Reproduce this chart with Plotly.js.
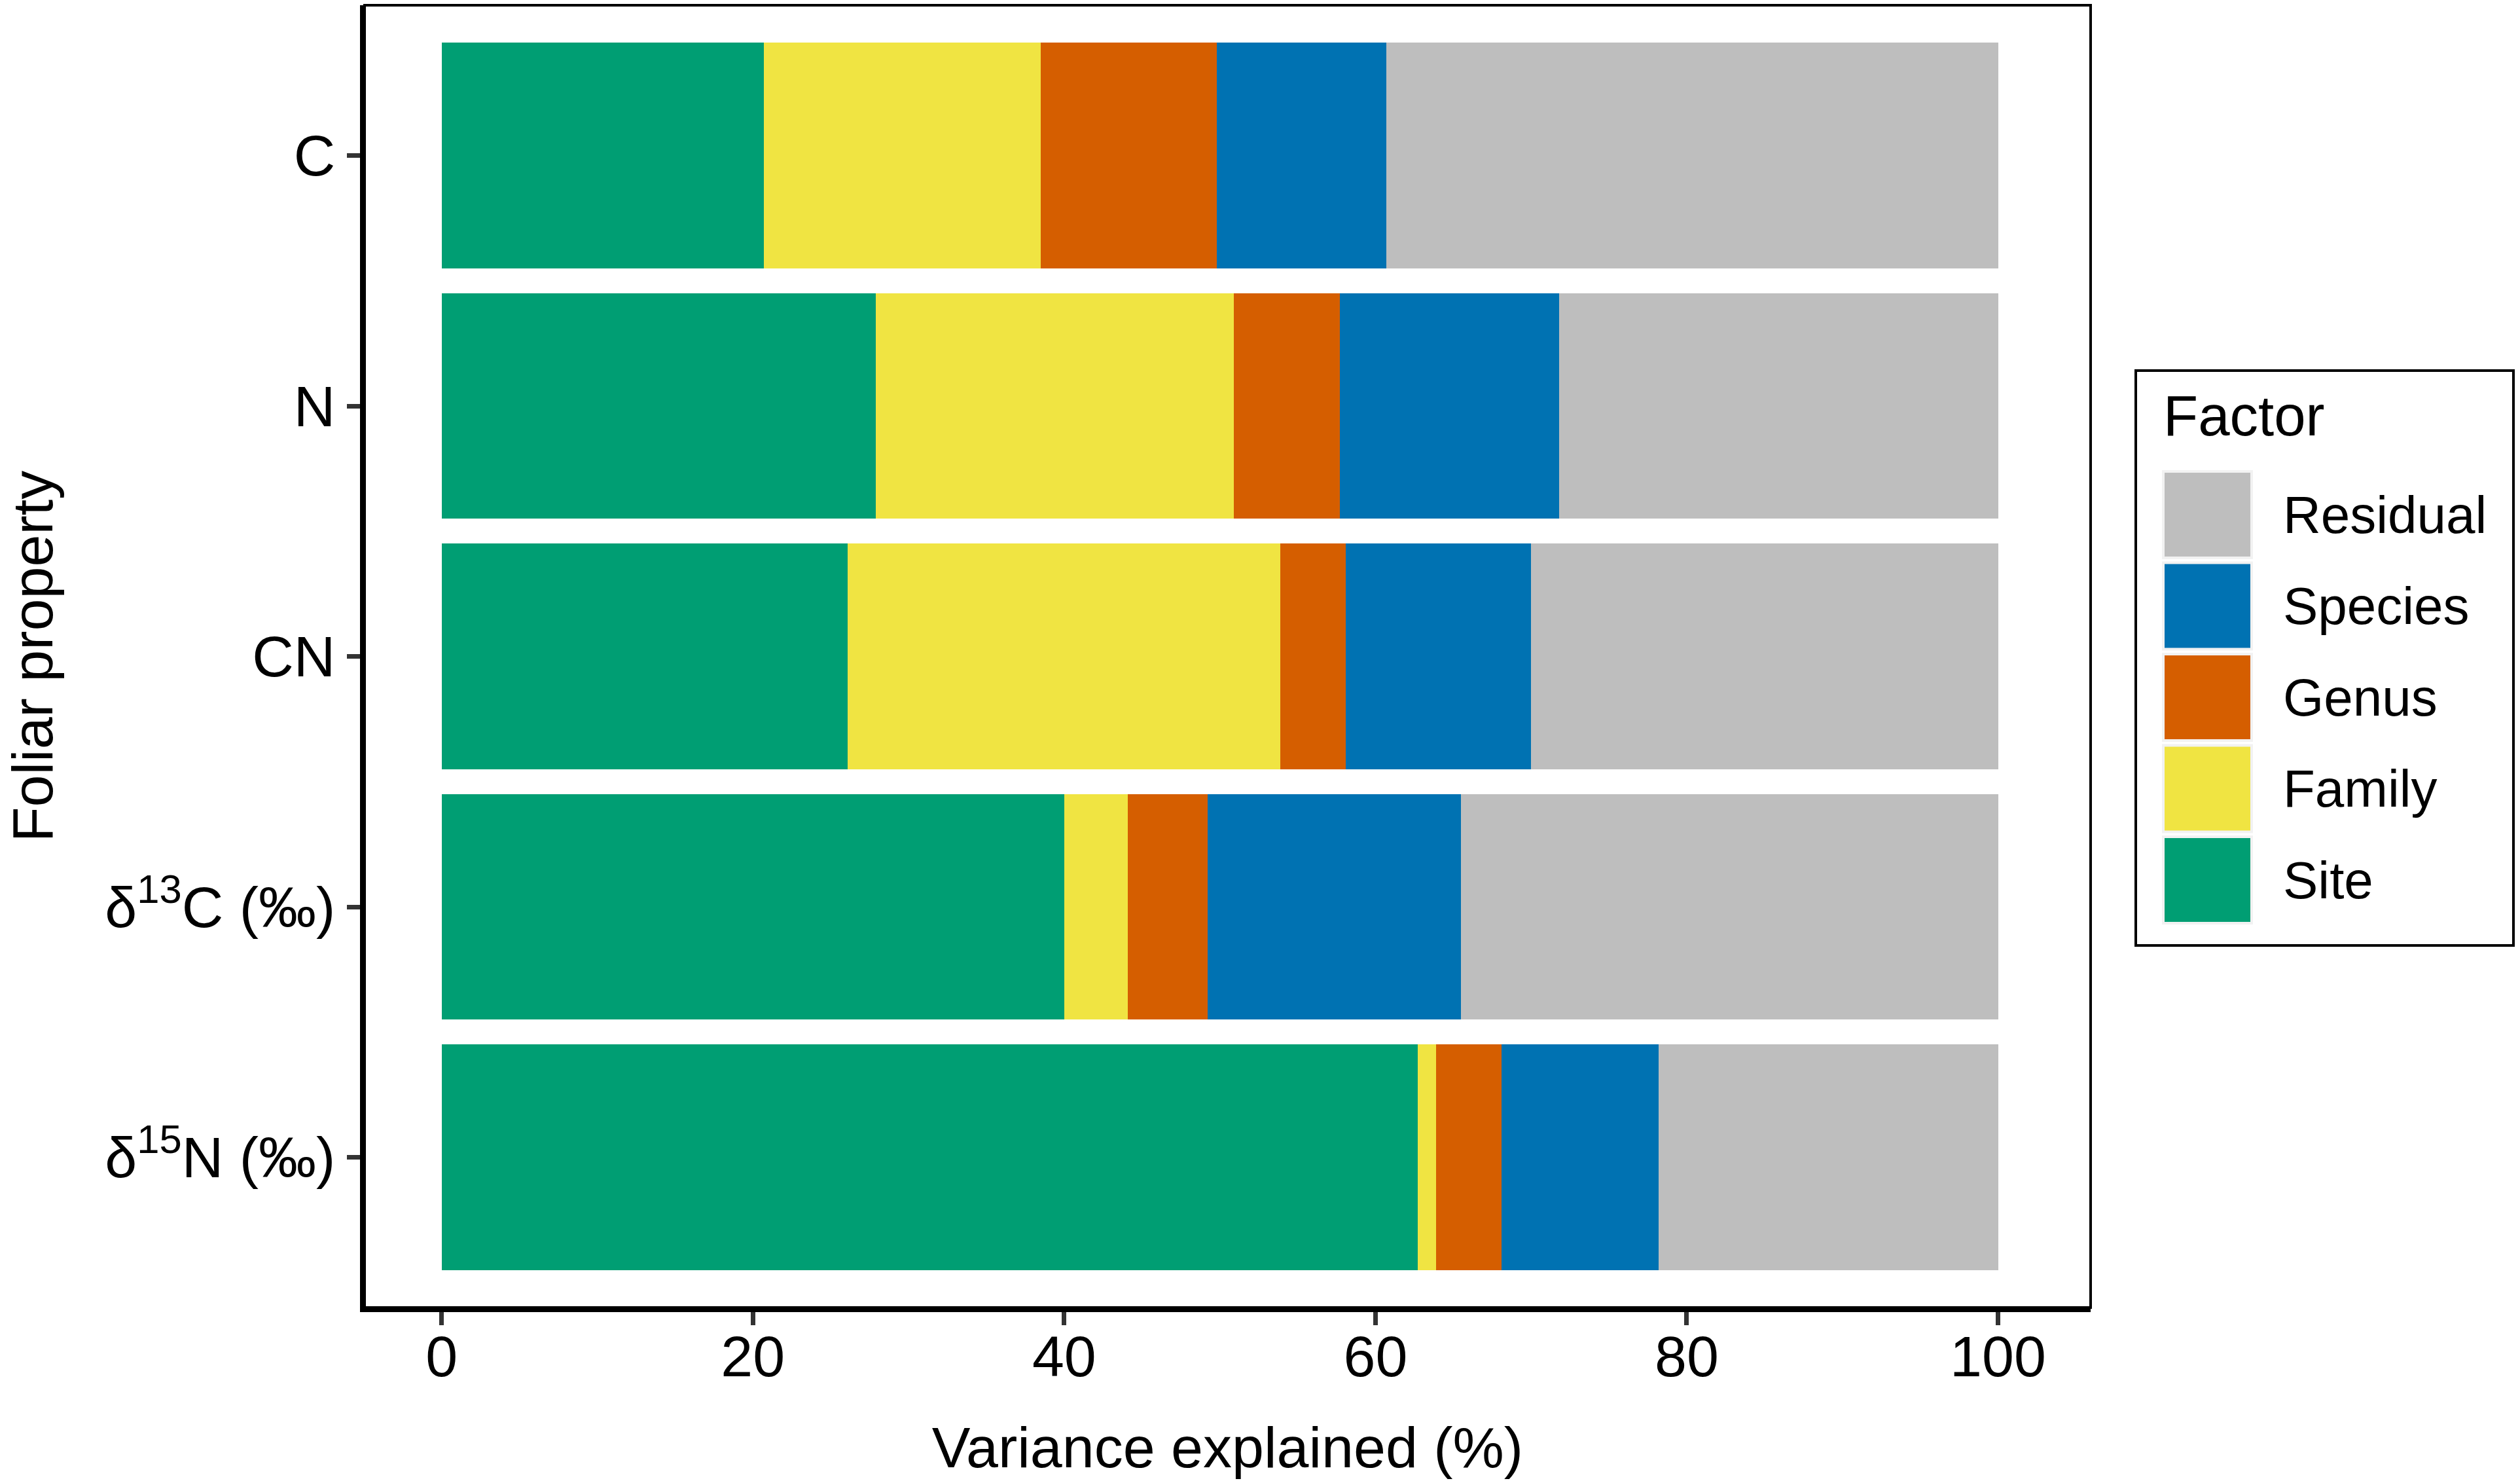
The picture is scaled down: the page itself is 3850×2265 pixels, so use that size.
<!DOCTYPE html>
<html>
<head>
<meta charset="utf-8">
<script src="https://cdn.plot.ly/plotly-3.0.1.min.js"></script>
<style>html,body{margin:0;padding:0;background:#fff;}#chart{width:3850px;height:2265px;}</style>
</head>
<body>
<div id="chart"></div>
<script>
// ---- data ----
const categories = ['C', 'N', 'CN', 'd13C', 'd15N'];
const tickLabels = ['C', 'N', 'CN', 'δ<sup>13</sup>C (‰)', 'δ<sup>15</sup>N (‰)'];
const factorNames = ['Site', 'Family', 'Genus', 'Species', 'Residual'];
const factorColors = ['#009E73', '#F0E442', '#D55E00', '#0072B2', '#BEBEBE'];
const site = [20.7, 27.9, 26.1, 40.0, 62.7];
const family = [17.8, 23.0, 27.8, 4.1, 1.2];
const genus = [11.3, 6.8, 4.2, 5.1, 4.2];
const species = [10.9, 14.1, 11.9, 16.3, 10.1];
const residual = [39.3, 28.2, 30.0, 34.5, 21.8];
const xTicks = [0, 20, 40, 60, 80, 100];

const seriesValues = [site, family, genus, species, residual];

// ---- layout geometry (pixels) ----
const W = 3850, H = 2265;
const M = {l: 557, r: 656, t: 8, b: 268};
const PW = W - M.l - M.r, PH = H - M.t - M.b;
const px = x => (x - M.l) / PW;
const py = y => (H - M.b - y) / PH;
const FONT = 'Liberation Sans, Arial, Helvetica, sans-serif';

const traces = factorNames.map((name, i) => ({
  type: 'bar',
  orientation: 'h',
  name: name,
  y: categories,
  x: seriesValues[i],
  width: 0.9,
  marker: {color: factorColors[i], line: {width: 0}},
  showlegend: false,
  hovertemplate: name + ': %{x}<extra></extra>'
}));

// panel box (thin top/right border)
const shapes = [{
  type: 'rect', xref: 'paper', yref: 'paper', x0: 0, x1: 1, y0: 0, y1: 1,
  line: {color: '#000', width: 4}, fillcolor: 'rgba(0,0,0,0)', layer: 'above'
}];
const annotations = [];

// custom legend (keys as in the reference)
shapes.push({
  type: 'rect', xref: 'paper', yref: 'paper',
  x0: px(3263), x1: px(3840), y0: py(1444), y1: py(566),
  line: {color: '#000', width: 4}, fillcolor: '#fff'
});
annotations.push({
  xref: 'paper', yref: 'paper', x: px(3303), y: py(634),
  xanchor: 'left', yanchor: 'middle', showarrow: false,
  text: 'Factor', font: {family: FONT, size: 87, color: '#000'}
});
const legendOrder = [4, 3, 2, 1, 0];
const keyTop0 = 722, keyPitch = 139.5, keyH = 128;
legendOrder.forEach((fi, k) => {
  const top = keyTop0 + k * keyPitch;
  shapes.push({
    type: 'rect', xref: 'paper', yref: 'paper',
    x0: px(3303), x1: px(3442), y0: py(top + keyH + 4), y1: py(top - 4),
    line: {width: 0}, fillcolor: '#F2F2F2'
  });
  shapes.push({
    type: 'rect', xref: 'paper', yref: 'paper',
    x0: px(3307), x1: px(3438), y0: py(top + keyH), y1: py(top),
    line: {width: 0}, fillcolor: factorColors[fi]
  });
  annotations.push({
    xref: 'paper', yref: 'paper', x: px(3486), y: py(top + keyH / 2),
    xanchor: 'left', yanchor: 'middle', showarrow: false,
    text: factorNames[fi], font: {family: FONT, size: 80, color: '#000'}
  });
});

const layout = {
  width: W, height: H,
  margin: M,
  paper_bgcolor: '#fff', plot_bgcolor: '#fff',
  barmode: 'stack',
  bargap: 0.1,
  font: {family: FONT, color: '#000'},
  showlegend: false,
  xaxis: {
    range: [-4.95, 105.95],
    tickvals: xTicks, ticktext: xTicks.map(String),
    showgrid: false, zeroline: false,
    showline: true, linecolor: '#000', linewidth: 7,
    ticks: 'outside', ticklen: 20, tickwidth: 7, tickcolor: '#333333',
    ticklabelstandoff: -28,
    tickfont: {family: FONT, size: 88, color: '#000'},
    title: {text: 'Variance explained (%)', font: {family: FONT, size: 88, color: '#000'}, standoff: 62}
  },
  yaxis: {
    type: 'category',
    categoryorder: 'array', categoryarray: categories,
    range: [4.6, -0.6],
    tickvals: categories, ticktext: tickLabels,
    showgrid: false, zeroline: false,
    showline: true, linecolor: '#000', linewidth: 7,
    ticks: 'outside', ticklen: 20, tickwidth: 7, tickcolor: '#333333',
    tickfont: {family: FONT, size: 88, color: '#000'},
    title: {text: 'Foliar property', font: {family: FONT, size: 88, color: '#000'}, standoff: 64}
  },
  shapes: shapes,
  annotations: annotations
};

Plotly.newPlot('chart', traces, layout, {staticPlot: true, displayModeBar: false});
</script>
</body>
</html>
